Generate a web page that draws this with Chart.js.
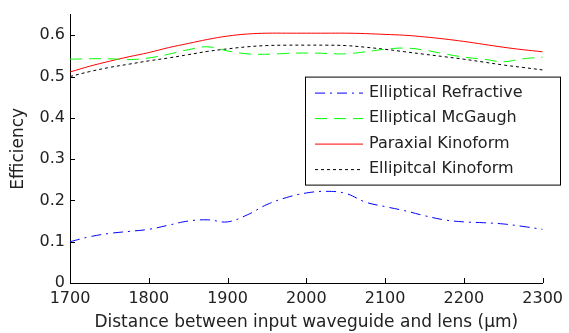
<!DOCTYPE html>
<html><head><meta charset="utf-8">
<script src="https://cdn.jsdelivr.net/npm/chart.js@4"></script>
<style>html,body{margin:0;padding:0;background:#fff}#wrap{width:569px;height:333px}</style>
</head><body><div id="wrap"><canvas id="c" width="569" height="333"></canvas></div>
<script>
const distances = [1700,1725,1750,1775,1800,1825,1850,1875,1900,1925,1950,1975,2000,2025,2050,2075,2100,2125,2150,2175,2200,2225,2250,2275,2300];
const ellipticalRefractive = [0.100,0.112,0.120,0.125,0.130,0.140,0.150,0.153,0.148,0.165,0.190,0.207,0.218,0.222,0.217,0.196,0.185,0.175,0.163,0.153,0.148,0.146,0.143,0.137,0.130];
const ellipticalMcGaugh = [0.542,0.543,0.543,0.541,0.545,0.554,0.565,0.572,0.562,0.555,0.554,0.556,0.557,0.556,0.555,0.560,0.566,0.569,0.564,0.555,0.547,0.542,0.536,0.543,0.547];
const paraxialKinoform = [0.511,0.525,0.537,0.548,0.558,0.570,0.580,0.590,0.598,0.603,0.605,0.605,0.605,0.605,0.605,0.604,0.602,0.600,0.596,0.591,0.585,0.578,0.571,0.565,0.560];
const ellipitcalKinoform = [0.500,0.512,0.522,0.530,0.538,0.545,0.553,0.561,0.567,0.572,0.575,0.576,0.576,0.576,0.575,0.571,0.566,0.560,0.554,0.548,0.542,0.535,0.528,0.522,0.516];
const seriesNames = ['Elliptical Refractive','Elliptical McGaugh','Paraxial Kinoform','Ellipitcal Kinoform'];
const xTicks = [1700,1800,1900,2000,2100,2200,2300];
const yTicks = [0,0.1,0.2,0.3,0.4,0.5,0.6];

const FONT = 'DejaVu Sans';
const pts = arr => arr.map((v,i)=>({x:distances[i], y:v}));

const styles = [
  {color:'#0000ff', dash:[10,5,2,5]},
  {color:'#00ff00', dash:[12,7]},
  {color:'#ff0000', dash:[]},
  {color:'#000000', dash:[3,3]}
];
const seriesData = [ellipticalRefractive, ellipticalMcGaugh, paraxialKinoform, ellipitcalKinoform];

const inwardTicks = {
  id:'inwardTicks',
  afterDraw(chart){
    const {ctx, chartArea:a, scales:{x,y}} = chart;
    ctx.save();
    ctx.strokeStyle='#000'; ctx.lineWidth=1;
    ctx.beginPath();
    xTicks.forEach(v=>{const px=Math.round(x.getPixelForValue(v))+0.5; ctx.moveTo(px,a.bottom); ctx.lineTo(px,a.bottom-5);});
    yTicks.forEach(v=>{const py=Math.round(y.getPixelForValue(v))+0.5; ctx.moveTo(a.left,py); ctx.lineTo(a.left+5,py);});
    ctx.stroke();
    // legend
    const lx=a.left+235, ly=a.top+62, w=255, h=108;
    ctx.fillStyle='#fff'; ctx.fillRect(lx,ly,w,h);
    ctx.strokeRect(lx+0.5,ly+0.5,w,h);
    ctx.font='16px "'+FONT+'"'; ctx.textBaseline='middle'; ctx.fillStyle='#222';
    seriesNames.forEach((n,i)=>{
      const yy=ly+16+i*25.5;
      ctx.save(); ctx.strokeStyle=styles[i].color; ctx.setLineDash(styles[i].dash);
      ctx.beginPath(); ctx.moveTo(lx+10,yy+0.5); ctx.lineTo(lx+58,yy+0.5); ctx.stroke(); ctx.restore();
      ctx.fillText(n, lx+64, yy);
    });
    ctx.restore();
  }
};

new Chart(document.getElementById('c'), {
  type:'line',
  data:{datasets: seriesData.map((d,i)=>({
    label: seriesNames[i], data: pts(d), borderColor: styles[i].color, borderDash: styles[i].dash,
    borderWidth:1, pointRadius:0, tension:0.4, fill:false
  }))},
  options:{
    responsive:false, animation:false,
    layout:{padding:{left:0,right:24,top:13,bottom:0}},
    plugins:{legend:{display:false}, tooltip:{enabled:false}},
    scales:{
      x:{type:'linear', min:1700, max:2300,
        afterBuildTicks: s=>{s.ticks = xTicks.map(v=>({value:v}));},
        afterFit: s=>{s.height=50;},
        grid:{drawOnChartArea:false, drawTicks:false},
        border:{display:true,color:'#000',width:1},
        ticks:{color:'#222', font:{family:FONT,size:16}, padding:6, maxRotation:0, autoSkip:false, callback:v=>String(v)},
        title:{display:true, text:'Distance between input waveguide and lens (µm)', color:'#222', font:{family:FONT,size:17}, padding:{top:1,bottom:0}}
      },
      y:{min:0, max:0.65,
        afterBuildTicks: s=>{s.ticks = yTicks.map(v=>({value:v}));},
        afterFit: s=>{s.width=70;},
        grid:{drawOnChartArea:false, drawTicks:false},
        border:{display:true,color:'#000',width:1},
        ticks:{color:'#222', font:{family:FONT,size:16}, padding:5, callback:v=>String(Math.round(v*10)/10)},
        title:{display:true, text:'Efficiency', color:'#222', font:{family:FONT,size:17}, padding:{top:8,bottom:0}}
      }
    }
  },
  plugins:[inwardTicks]
});
</script></body></html>
